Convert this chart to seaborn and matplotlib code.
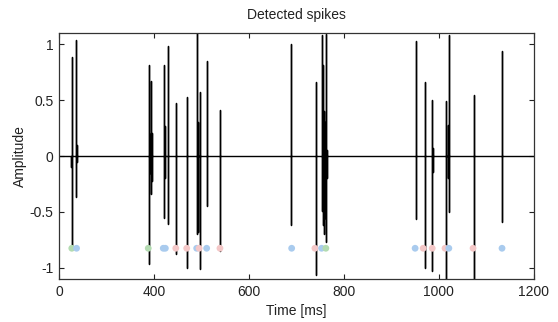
import numpy as np
import pandas as pd
import matplotlib
matplotlib.use("Agg")
import matplotlib.pyplot as plt
import seaborn as sns

# spike strokes: time [ms], peak, trough
spike_t = [226, 227, 236, 237,
           389.5, 391, 393.7, 395, 421, 423, 429, 430, 446, 447, 469,
           491, 492.5, 497, 511, 512, 539, 540,
           689, 689.5, 740.4, 741, 754, 756, 758, 760, 763, 764,
           951.6, 952.5, 970, 971, 986, 987, 1016, 1020, 1022, 1074, 1075, 1133, 1134]
spike_hi = [0.0, 0.885, 1.04, 0.1,
            0.816, 0.2, 0.67, 0.21, 0.816, 0.27, 0.98, 0.2, 0.475, 0.25, 0.53,
            1.15, 0.3, 0.57, 0.85, 0.13, 0.41, 0.38,
            1.0, 0.0, 0.66, 0.0, 1.08, 0.81, 0.4, 0.3, 1.09, 0.05,
            1.03, 0.34, 0.66, 0.0, 0.5, 0.07, 0.49, 0.28, 1.085, 0.55, 0.0, 0.94, 0.2]
spike_lo = [-0.1, -0.82, -0.37, -0.05,
            -0.97, -0.15, -0.34, -0.22, -0.55, -0.2, -0.61, -0.15, -0.88, -0.1, -1.0,
            -0.70, -0.68, -1.01, -0.45, -0.1, -0.85, -0.33,
            -0.62, -0.06, -1.06, -0.17, -0.49, -0.62, -0.7, -0.55, -0.77, -0.2,
            -0.56, -0.47, -1.0, -0.46, -1.03, -0.14, -1.15, -0.2, -0.5, -1.15, -0.12, -0.59, 0.0]

# detected spike markers and their cluster
dot_t = [227, 237, 388, 419.6, 424, 446, 469, 490, 495, 511, 539,
         690, 739, 753, 762,
         950, 967, 986, 1013, 1021, 1072, 1133]
dot_cls = ["g", "b", "g", "b", "b", "p", "p", "b", "p", "b", "p",
           "b", "p", "b", "g",
           "b", "p", "p", "p", "b", "p", "b"]
dot_level = -0.825

xtick_pos = [200, 400, 600, 800, 1000, 1200]
xtick_lab = ["0", "400", "600", "800", "1000", "1200"]
ytick_pos = [-1, -0.5, 0, 0.5, 1]

# build trace table
tt, yy = [200], [0.0]
for t, hi, lo in zip(spike_t, spike_hi, spike_lo):
    tt += [t, t, t, t]
    yy += [0.0, hi, lo, 0.0]
tt.append(1200)
yy.append(0.0)
trace = pd.DataFrame({"t": tt, "amp": yy})
dots = pd.DataFrame({"t": dot_t, "amp": [dot_level] * len(dot_t), "cls": dot_cls})

sns.set_style("ticks")
plt.rcParams["font.family"] = ["Liberation Sans", "DejaVu Sans"]
plt.rcParams["xtick.direction"] = "in"
plt.rcParams["ytick.direction"] = "in"

fig = plt.figure(figsize=(5.58, 3.22), dpi=100)
ax = fig.add_axes([0.1057, 0.1335, 0.851, 0.764])

sns.lineplot(data=trace, x="t", y="amp", sort=False, estimator=None,
             color="black", linewidth=1.0, ax=ax)
sns.scatterplot(data=dots, x="t", y="amp", hue="cls",
                palette={"g": "#b3dbb1", "b": "#a9cbee", "p": "#f4c7c7"},
                s=24, edgecolor="none", legend=False, zorder=5, ax=ax)

ax.set_xlim(200, 1200)
ax.set_ylim(-1.1, 1.1)
ax.set_xticks(xtick_pos)
ax.set_xticklabels(xtick_lab)
ax.set_yticks(ytick_pos)
ax.set_yticklabels(["-1", "-0.5", "0", "0.5", "1"])
ax.tick_params(top=True, right=True, length=3.5, width=0.8, labelsize=10,
               colors="#222222", pad=4)
for s in ax.spines.values():
    s.set_linewidth(0.9)
    s.set_color("#333333")

ax.set_title("Detected spikes", fontsize=10, color="#222222", pad=10)
ax.set_xlabel("Time [ms]", fontsize=10, color="#222222", labelpad=4)
ax.set_ylabel("Amplitude", fontsize=10, color="#222222", labelpad=2)

fig.savefig("out.png", dpi=100)
